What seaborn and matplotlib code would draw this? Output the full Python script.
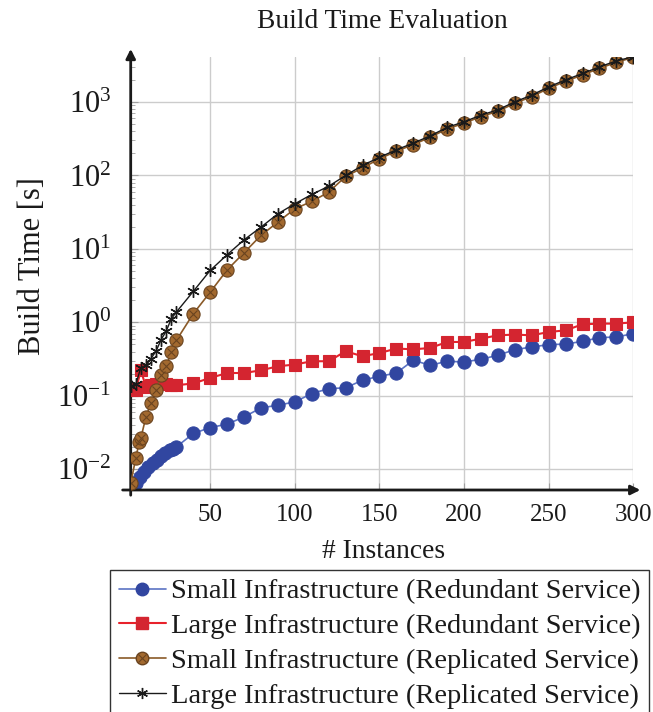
import numpy as np
import pandas as pd
import matplotlib
matplotlib.use("Agg")
import matplotlib.pyplot as plt
import seaborn as sns
from matplotlib.lines import Line2D
from matplotlib.ticker import LogLocator, NullFormatter, FixedLocator

# ---------------- data ----------------
x_tail = [40, 50, 60, 70, 80, 90, 100, 110, 120, 130, 140, 150, 160, 170, 180, 190,
          200, 210, 220, 230, 240, 250, 260, 270, 280, 290, 300]

small_red_x = [3, 6, 8.5, 11, 13.5, 16, 18.5, 21, 23.5, 26, 28, 30] + x_tail
small_red_y = [0.0052, 0.0064, 0.0079, 0.0092, 0.0107, 0.0122, 0.0133, 0.0150, 0.0167,
               0.0181, 0.0191, 0.0201,
               0.0306, 0.0369, 0.0410, 0.0515, 0.0683, 0.0743, 0.0824, 0.107, 0.125,
               0.128, 0.163, 0.184, 0.204, 0.304, 0.260, 0.295, 0.288, 0.314, 0.356,
               0.425, 0.461, 0.497, 0.505, 0.551, 0.619, 0.631, 0.702]

large_red_x = [3, 6, 9, 12, 15, 18, 21, 24, 27, 30] + x_tail
large_red_y = [0.125, 0.119, 0.222, 0.132, 0.139, 0.143, 0.147, 0.143, 0.139, 0.139,
               0.147, 0.175, 0.204, 0.204, 0.222, 0.252, 0.266, 0.295, 0.295, 0.403,
               0.345, 0.382, 0.439, 0.429, 0.447, 0.540, 0.540, 0.600, 0.665, 0.681,
               0.665, 0.738, 0.778, 0.939, 0.960, 0.960, 1.00]

small_rep_x = [3, 6, 8, 9, 12, 15, 18, 21, 24, 27, 30] + x_tail
small_rep_y = [0.0064, 0.0141, 0.0235, 0.0264, 0.0515, 0.0798, 0.119, 0.194, 0.252,
               0.394, 0.569,
               1.31, 2.58, 5.18, 8.88, 15.3, 23.2, 35.2, 44.3, 59.3, 96.9, 127, 169,
               214, 264, 332, 432, 515, 635, 750, 964, 1188, 1541, 1918, 2344, 2883,
               3478, 4070]

large_rep_x = [3, 6, 9, 12, 15, 18, 21, 24, 27, 30] + x_tail
large_rep_y = [0.135, 0.143, 0.242, 0.260, 0.321, 0.407, 0.582, 0.761, 1.12, 1.38,
               2.64, 5.10, 8.34, 13.3, 19.8, 30.1, 41.2, 55.1, 71.5, 100, 137, 177,
               224, 276, 347, 452, 539, 664, 785, 1008, 1243, 1612, 2006, 2452, 3016,
               3638, 4150]

labels = ["Small Infrastructure (Redundant Service)",
          "Large Infrastructure (Redundant Service)",
          "Small Infrastructure (Replicated Service)",
          "Large Infrastructure (Replicated Service)"]
x_ticks = [50, 100, 150, 200, 250, 300]
title = "Build Time Evaluation"
x_label = "# Instances"
y_label = "Build Time [s]"

# ---------------- style ----------------
sns.set_theme(style="white")
plt.rcParams["font.family"] = ["Liberation Serif", "DejaVu Serif"]
plt.rcParams["mathtext.fontset"] = "stix"

W, H = 653, 712
fig = plt.figure(figsize=(W / 100, H / 100), dpi=100)
x0, x1 = 130.7, 633.3
y_top, y_bot = 56.7, 490.0
ax = fig.add_axes([x0 / W, 1 - y_bot / H, (x1 - x0) / W, (y_bot - y_top) / H])

blue_line, blue_mk = "#5b73c4", "#3146a0"
red_line, red_mk = "#e8222b", "#d42530"
brown_line, brown_mk, brown_edge = "#8a5a28", "#a2692f", "#6a4420"

sns.lineplot(x=small_red_x, y=small_red_y, ax=ax, color=blue_line, lw=1.2,
             marker="o", markersize=9.5, markerfacecolor=blue_mk,
             markeredgecolor=blue_mk, markeredgewidth=0.8, zorder=3)
sns.lineplot(x=large_red_x, y=large_red_y, ax=ax, color=red_line, lw=1.5,
             marker="s", markersize=8.5, markerfacecolor=red_mk,
             markeredgecolor=red_mk, markeredgewidth=0.8, zorder=4)
sns.lineplot(x=small_rep_x, y=small_rep_y, ax=ax, color=brown_line, lw=1.2,
             marker="o", markersize=9.5, markerfacecolor=brown_mk,
             markeredgecolor=brown_edge, markeredgewidth=0.8, zorder=5)
ax.plot(small_rep_x, small_rep_y, ls="none", marker="x", markersize=6,
        markeredgecolor=brown_edge, markeredgewidth=0.8, zorder=6)
sns.lineplot(x=large_rep_x, y=large_rep_y, ax=ax, color="#1a1a1a", lw=1.0,
             marker=(6, 2, 0), markersize=9, markerfacecolor="#1a1a1a",
             markeredgecolor="#1a1a1a", markeredgewidth=1.0, zorder=7)

ax.set_yscale("log")
ax.set_xlim(3, 300)
ax.set_ylim(0.0052, 4150)
ax.xaxis.set_major_locator(FixedLocator(x_ticks))
ax.yaxis.set_major_locator(LogLocator(base=10, numticks=20))
ax.yaxis.set_minor_locator(LogLocator(base=10, subs=np.arange(2, 10), numticks=20))
ax.yaxis.set_minor_formatter(NullFormatter())
ax.grid(True, which="major", color="#cccccc", lw=1.0)
ax.set_axisbelow(True)

for s in ax.spines.values():
    s.set_visible(False)

ax.tick_params(axis="both", which="major", direction="in", length=5, width=0.8,
               color="#a0a0a0", labelcolor="#1a1a1a")
ax.tick_params(axis="x", which="major", pad=10, top=False, bottom=True, labelsize=18)
ax.tick_params(axis="y", which="major", pad=14, left=True, right=False, labelsize=22)
ax.tick_params(axis="y", which="minor", direction="in", length=3, width=0.6,
               color="#a0a0a0", left=True)

# axis lines with arrows
ax.annotate("", xy=(1.014, 0), xytext=(-0.016, 0), xycoords="axes fraction",
            arrowprops=dict(arrowstyle="-|>", color="#1a1a1a", lw=2.0,
                            mutation_scale=14, shrinkA=0, shrinkB=0),
            annotation_clip=False)
ax.annotate("", xy=(0, 1.018), xytext=(0, -0.012), xycoords="axes fraction",
            arrowprops=dict(arrowstyle="-|>", color="#1a1a1a", lw=2.0,
                            mutation_scale=14, shrinkA=0, shrinkB=0),
            annotation_clip=False)

fig.text(382 / W, 1 - 21 / H, title, ha="center", va="center", fontsize=19.8,
         color="#1a1a1a")
fig.text(384 / W, 1 - 551 / H, x_label, ha="center", va="center", fontsize=19.8,
         color="#1a1a1a")
fig.text(33 / W, 1 - 266 / H, y_label, ha="center", va="center", fontsize=22,
         rotation=90, color="#1a1a1a")

# legend
h1 = Line2D([], [], color=blue_line, lw=1.2, marker="o", markersize=9,
            markerfacecolor=blue_mk, markeredgecolor=blue_mk)
h2 = Line2D([], [], color=red_line, lw=1.5, marker="s", markersize=8.5,
            markerfacecolor=red_mk, markeredgecolor=red_mk)
h3a = Line2D([], [], color=brown_line, lw=1.2, marker="o", markersize=9,
             markerfacecolor=brown_mk, markeredgecolor=brown_edge)
h3b = Line2D([], [], ls="none", marker="x", markersize=5.5,
             markeredgecolor=brown_edge, markeredgewidth=0.8)
h4 = Line2D([], [], color="#1a1a1a", lw=1.0, marker=(6, 2, 0), markersize=8,
            markeredgecolor="#1a1a1a")
leg = fig.legend([h1, h2, (h3a, h3b), h4], labels, loc="upper left",
                 bbox_to_anchor=(110 / W, 1 - 570 / H), fontsize=20.5,
                 frameon=True, fancybox=False, edgecolor="#333333",
                 framealpha=1, handlelength=1.65, handletextpad=0.2,
                 labelspacing=0.31, borderpad=0.3, borderaxespad=0)
leg.get_frame().set_linewidth(1.0)
for t in leg.get_texts():
    t.set_color("#1a1a1a")

fig.savefig("out.png", dpi=100)
